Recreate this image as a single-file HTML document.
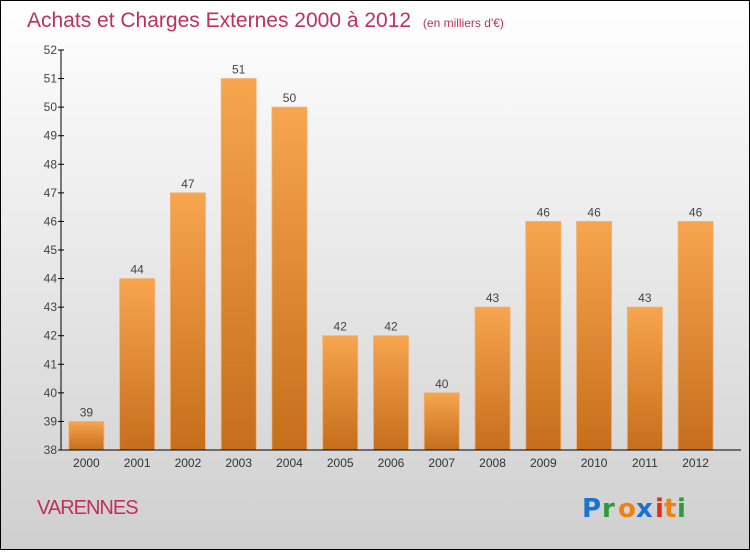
<!DOCTYPE html>
<html><head><meta charset="utf-8"><style>
html,body{margin:0;padding:0;}
body{width:750px;height:550px;overflow:hidden;font-family:"Liberation Sans",sans-serif;}
</style></head><body>
<svg id="chart" width="750" height="550" xmlns="http://www.w3.org/2000/svg" font-family="Liberation Sans, sans-serif">
<defs>
<linearGradient id="bg" x1="0" y1="0" x2="0" y2="1"><stop offset="0" stop-color="#ffffff"/><stop offset="1" stop-color="#cfcfcf"/></linearGradient>
<linearGradient id="bar" x1="0" y1="0" x2="0" y2="1"><stop offset="0" stop-color="#f7a54f"/><stop offset="1" stop-color="#c66e1b"/></linearGradient>
</defs>
<rect x="0.5" y="0.5" width="749" height="549" fill="url(#bg)" stroke="#000" stroke-width="1"/>
<text x="27" y="27" font-size="21" fill="#c0305e">Achats et Charges Externes 2000 à 2012 <tspan font-size="12" dx="6">(en milliers d'€)</tspan></text>
<g id="plot"></g>
<text x="37" y="514" font-size="20" fill="#c0305e" letter-spacing="-1">VARENNES</text>
<g font-size="26" font-family="DejaVu Sans, sans-serif" font-weight="bold">
<text x="582" y="517" fill="#1a73d0">P</text><text x="602" y="517" fill="#2e9a3a">r</text><text x="618" y="517" fill="#f08010">o</text><text x="636" y="517" fill="#1a73d0">x</text><text x="655" y="517" fill="#e03010">i</text><text x="664" y="517" fill="#f08010">t</text><text x="677" y="517" fill="#2e9a3a">i</text>
</g>
</svg>
<script>
const categories=["2000","2001","2002","2003","2004","2005","2006","2007","2008","2009","2010","2011","2012"];
const values=[39,44,47,51,50,42,42,40,43,46,46,43,46];
const yTicks=[38,39,40,41,42,43,44,45,46,47,48,49,50,51,52];
const NS="http://www.w3.org/2000/svg";
const g=document.getElementById('plot');
const x0=61,x1=721,yTop=50,yBot=450,yMin=38,yMax=52;
const step=(x1-x0)/categories.length;
const y=v=>yBot-(v-yMin)/(yMax-yMin)*(yBot-yTop);
const xc=i=>x0+step*(i+0.5);
function el(t,a){const e=document.createElementNS(NS,t);for(const k in a)e.setAttribute(k,a[k]);g.appendChild(e);return e;}
values.forEach((v,i)=>{
 const r=el('rect',{x:xc(i)-17.5,y:y(v),width:35,height:yBot-y(v),fill:'url(#bar)',stroke:'#f5b070','stroke-width':0.8});
 
 
 const t=el('text',{x:xc(i),y:y(v)-5,'text-anchor':'middle','font-size':12,fill:'#444'});
 
 
 t.textContent=v;
 const c=el('text',{x:xc(i),y:467,'text-anchor':'middle','font-size':12,fill:'#333'});
 
 
 c.textContent=categories[i];
});
const ya=el('line',{x1:x0,y1:yTop,x2:x0,y2:yBot,stroke:'#000','stroke-width':1});


const xa=el('line',{x1:x0,y1:yBot,x2:x1+20,y2:yBot,stroke:'#000','stroke-width':1});


yTicks.forEach(v=>{
 const tk=el('line',{x1:x0-3,y1:y(v),x2:x0+3,y2:y(v),stroke:'#000','stroke-width':1});
 
 
 const t=el('text',{x:x0-4,y:y(v)+4,'text-anchor':'end','font-size':12,fill:'#444'});
 
 
 t.textContent=v;
});
</script>
</body></html>
